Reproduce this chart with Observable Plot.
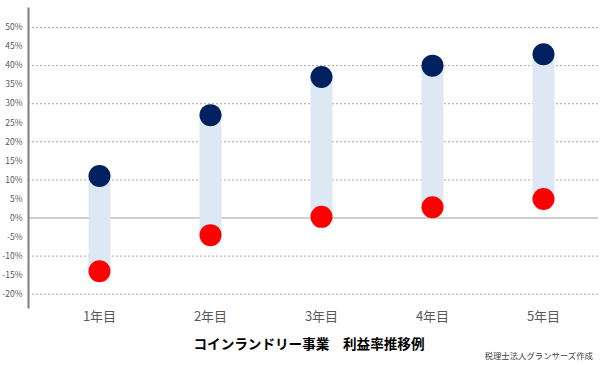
<!DOCTYPE html>
<html>
<head>
<meta charset="utf-8">
<script src="https://cdn.jsdelivr.net/npm/d3@7"></script>
<script src="https://cdn.jsdelivr.net/npm/@observablehq/plot@0.6"></script>
<style>
  html, body { margin: 0; padding: 0; background: #fff; }
  #wrap { position: relative; width: 600px; height: 365px; font-family: "Noto Sans CJK JP", "Noto Sans", sans-serif; }
  #title { position: absolute; left: 0; width: 618px; top: 333px; text-align: center; font-size: 13.6px; font-weight: bold; color: #000; line-height: 20px; }
  #credit { position: absolute; right: 7px; top: 349px; font-size: 8.4px; color: #404040; line-height: 12px; }
</style>
</head>
<body>
<div id="wrap">
  <div id="chart"></div>
  <div id="title">コインランドリー事業　利益率推移例</div>
  <div id="credit">税理士法人グランサーズ作成</div>
</div>
<script>
const years = ["1年目", "2年目", "3年目", "4年目", "5年目"];
const highValues = [11, 27, 37, 40, 43];
const lowValues = [-14, -4.5, 0.3, 2.8, 5];
const yTicks = [50, 45, 40, 35, 30, 25, 20, 15, 10, 5, 0, -5, -10, -15, -20];
const gridValues = [50, 40, 30, 20, 10, -10, -20];

const data = years.map((y, i) => ({year: y, high: highValues[i], low: lowValues[i]}));

const chart = Plot.plot({
  width: 600,
  height: 330,
  marginLeft: 28,
  marginRight: 2,
  marginTop: 8,
  marginBottom: 23,
  style: {fontFamily: "'Noto Sans CJK JP', 'Noto Sans', sans-serif", background: "#fff"},
  x: {type: "point", domain: years, padding: 0.562, align: 0.56, label: null},
  y: {domain: [-23.5, 55], label: null},
  marks: [
    Plot.ruleY(gridValues, {stroke: "#a6a6a6", strokeDasharray: "2,2", strokeWidth: 1}),
    Plot.ruleY([0], {stroke: "#bfbfbf", strokeWidth: 1.5}),
    Plot.frame({anchor: "left", stroke: "#7f7f7f", strokeWidth: 2}),
    Plot.axisY({ticks: yTicks, tickSize: 0, tickPadding: 6, tickFormat: d => d + "%", fontSize: 8.5, color: "#595959"}),
    Plot.axisX({tickSize: 0, tickPadding: 4, fontSize: 13, color: "#595959"}),
    Plot.ruleX(data, {x: "year", y1: "low", y2: "high", stroke: "#dde8f4", strokeWidth: 22}),
    Plot.dot(data, {x: "year", y: "high", r: 11, fill: "#002060"}),
    Plot.dot(data, {x: "year", y: "low", r: 11, fill: "#ff0000"})
  ]
});
document.getElementById("chart").appendChild(chart);
</script>
</body>
</html>
